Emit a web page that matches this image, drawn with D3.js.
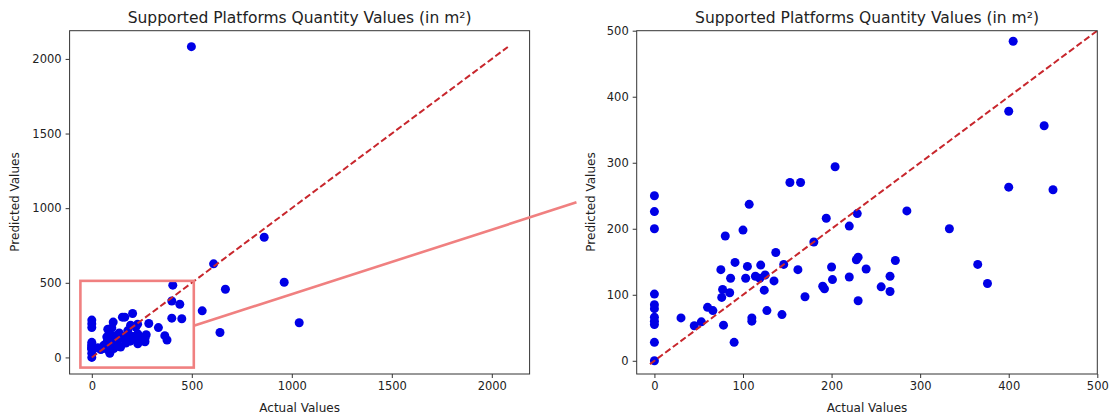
<!DOCTYPE html>
<html>
<head>
<meta charset="utf-8">
<script src="https://cdn.jsdelivr.net/npm/d3@7"></script>
<style>
  html, body { margin: 0; padding: 0; background: #fff; }
  svg { display: block; }
  text { font-family: "DejaVu Sans", sans-serif; fill: #222; }
</style>
</head>
<body>
<svg id="chart" width="1116" height="417"></svg>
<script>
// Actual vs. predicted supported-platform quantities (m²)
const actualValues = [
  405, 400, 440, 400, 450, 204, 153, 165, 0, 0, 0, 107, 229, 194, 285, 220,
  100, 80, 333, 180, 137, 91, 75, 105, 120, 146, 162, 200, 230, 228, 272, 239,
  365, 86, 103, 114, 119, 125, 135, 220, 266, 201, 190, 192, 256, 266, 376, 77,
  85, 76, 124, 170, 230, 0, 0, 0, 0, 0, 0, 0, 0, 30, 60, 66,
  53, 45, 78, 127, 144, 110, 110, 90,
  498, 862, 609, 668, 962, 552, 641, 1037
];
const predictedValues = [
  484, 378, 356, 263, 259, 294, 270, 270, 250, 226, 200, 237, 223, 216, 227, 204,
  198, 189, 200, 180, 164, 149, 138, 143, 145, 146, 138, 142, 157, 153, 152, 139,
  146, 125, 125, 128, 125, 130, 121, 127, 128, 123, 113, 109, 112, 105, 117, 108,
  103, 96, 107, 97, 91, 101, 85, 79, 66, 60, 55, 28, 0, 65, 81, 76,
  59, 53, 54, 76, 70, 65, 60, 28,
  2082, 805, 627, 457, 504, 312, 167, 232
];

const chartTitle = "Supported Platforms Quantity Values (in m²)";
const xLabel = "Actual Values";
const yLabel = "Predicted Values";

// Axis limits and ticks for the full view and the zoomed view
const fullLimits = [-111, 2189];
const fullTicks = [0, 500, 1000, 1500, 2000];
const fullDiagonal = [0, 2080];

const zoomLimits = [-20, 500];
const zoomTicks = [0, 100, 200, 300, 400, 500];
const zoomDiagonal = [-5, 500];

// Zoom-region box in full-view data units, and connector endpoints
const boxX = [-57, 510];
const boxY = [-68, 513];
const connectorFrom = [510, 212];   // full-view data units
const connectorTo = [-88, 240];     // zoom-view data units

const svg = d3.select("#chart");
const points = actualValues.map((a, i) => ({ a, p: predictedValues[i] }));
const tickFmt = d3.format("d");

function panel(id, left, right, top, bottom, limits, ticks, diagonal) {
  const x = d3.scaleLinear().domain(limits).range([left, right]);
  const y = d3.scaleLinear().domain(limits).range([bottom, top]);
  const g = svg.append("g");

  g.append("clipPath").attr("id", id).append("rect")
    .attr("x", left).attr("y", top)
    .attr("width", right - left).attr("height", bottom - top);

  const plot = g.append("g").attr("clip-path", `url(#${id})`);

  plot.selectAll("circle").data(points).join("circle")
    .attr("cx", d => x(d.a)).attr("cy", d => y(d.p))
    .attr("r", 4.5).attr("fill", "#0000e6");

  plot.append("line")
    .attr("x1", x(diagonal[0])).attr("y1", y(diagonal[0]))
    .attr("x2", x(diagonal[1])).attr("y2", y(diagonal[1]))
    .attr("stroke", "#c8272d").attr("stroke-width", 2)
    .attr("stroke-dasharray", "6.5,3");

  const xAxis = g.append("g").attr("transform", `translate(0,${bottom})`)
    .call(d3.axisBottom(x).tickValues(ticks).tickFormat(tickFmt)
      .tickSize(4).tickPadding(4).tickSizeOuter(0));
  const yAxis = g.append("g").attr("transform", `translate(${left},0)`)
    .call(d3.axisLeft(y).tickValues(ticks).tickFormat(tickFmt)
      .tickSize(4).tickPadding(4).tickSizeOuter(0));
  [xAxis, yAxis].forEach(ax => {
    ax.select(".domain").remove();
    ax.selectAll("line").attr("stroke", "#333");
    ax.selectAll("text").style("font-size", "11.5px").attr("fill", "#222")
      .style("font-family", '"DejaVu Sans", sans-serif');
  });

  g.append("rect")
    .attr("x", left).attr("y", top)
    .attr("width", right - left).attr("height", bottom - top)
    .attr("fill", "none").attr("stroke", "#333").attr("stroke-width", 1);

  g.append("text")
    .attr("x", (left + right) / 2).attr("y", top - 8)
    .attr("text-anchor", "middle").style("font-size", "15.5px")
    .text(chartTitle);

  g.append("text")
    .attr("x", (left + right) / 2).attr("y", bottom + 38)
    .attr("text-anchor", "middle").style("font-size", "12px")
    .text(xLabel);

  return { x, y, g };
}

const full = panel("clip-full", 69.6, 529.6, 30.7, 374, fullLimits, fullTicks, fullDiagonal);
const zoom = panel("clip-zoom", 636.7, 1097.3, 30.7, 374, zoomLimits, zoomTicks, zoomDiagonal);

// Y-axis titles
svg.append("text")
  .attr("transform", `translate(19,202) rotate(-90)`)
  .attr("text-anchor", "middle").style("font-size", "12px")
  .text(yLabel);
svg.append("text")
  .attr("transform", `translate(595,202) rotate(-90)`)
  .attr("text-anchor", "middle").style("font-size", "12px")
  .text(yLabel);

// Zoom-region box on the full view
svg.append("rect")
  .attr("x", full.x(boxX[0])).attr("y", full.y(boxY[1]))
  .attr("width", full.x(boxX[1]) - full.x(boxX[0]))
  .attr("height", full.y(boxY[0]) - full.y(boxY[1]))
  .attr("fill", "none").attr("stroke", "#f08080").attr("stroke-width", 2.6);

// Connector from the box toward the zoomed view
svg.append("line")
  .attr("x1", full.x(connectorFrom[0])).attr("y1", full.y(connectorFrom[1]))
  .attr("x2", zoom.x(connectorTo[0])).attr("y2", zoom.y(connectorTo[1]))
  .attr("stroke", "#f08080").attr("stroke-width", 2.6);
</script>
</body>
</html>
